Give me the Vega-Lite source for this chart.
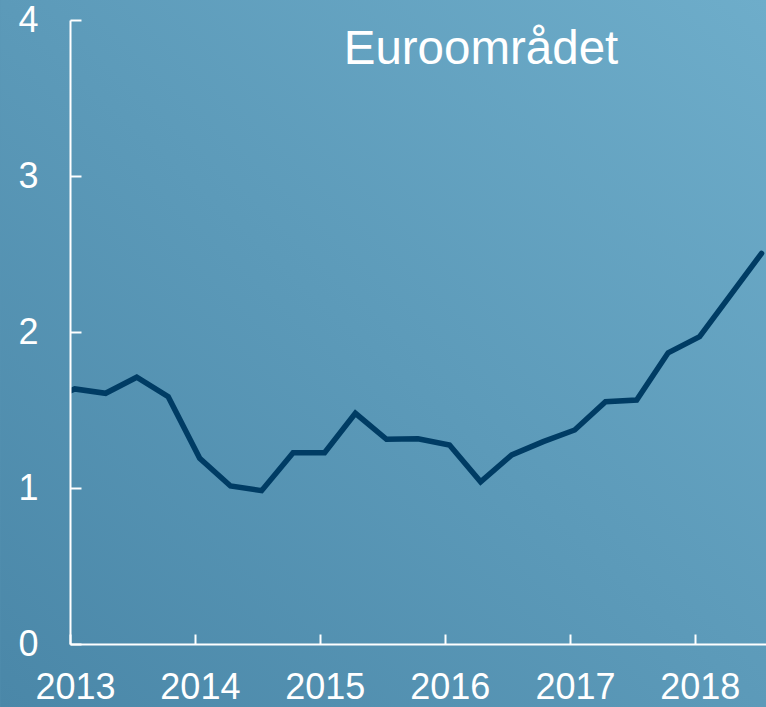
{
  "$schema": "https://vega.github.io/schema/vega-lite/v6.json",
  "width": 696,
  "height": 624,
  "autosize": {"type": "none"},
  "padding": {"left": 70, "top": 20, "right": 0, "bottom": 63},
  "background": "#5894b3",
  "config": {
    "view": {"stroke": null},
    "font": "Liberation Sans"
  },
  "title": {
    "text": "Euroområdet",
    "color": "white",
    "fontSize": 47.5,
    "font": "Liberation Sans",
    "fontWeight": "normal",
    "anchor": "middle",
    "frame": "group",
    "dx": 63,
    "offset": -112,
    "baseline": "alphabetic",
    "zindex": 2
  },
  "layer": [
    {
      "data": {"values": [{}]},
      "mark": {
        "type": "rect",
        "clip": false,
        "fill": {
          "gradient": "linear",
          "x1": 0, "y1": 1, "x2": 1, "y2": 0,
          "stops": [
            {"offset": 0, "color": "#4a87a8"},
            {"offset": 1, "color": "#6eadca"}
          ]
        }
      },
      "encoding": {
        "x": {"datum": {"year": 2012, "month": 6, "date": 11}, "type": "temporal",
              "scale": {"domain": ["2013-01-01", "2018-07-28"]},
              "axis": {"title": null, "zindex": 2, "format": "%Y", "tickCount": {"interval": "year", "step": 1}, "labelFlush": false, "labelOverlap": false, "grid": false, "tickSize": -10, "labelPadding": 36, "labelOffset": 5, "domainColor": "white", "tickColor": "white", "labelColor": "white", "labelFontSize": 36, "labelFont": "Liberation Sans", "domainWidth": 2, "tickWidth": 2}},
        "x2": {"datum": {"year": 2018, "month": 7, "date": 28}},
        "y": {"datum": -0.41, "type": "quantitative", "scale": {"domain": [0, 4]},
              "axis": {"title": null, "zindex": 2, "values": [0, 1, 2, 3, 4], "grid": false, "tickSize": -11, "labelPadding": 43, "domainColor": "white", "tickColor": "white", "labelColor": "white", "labelFontSize": 36, "labelFont": "Liberation Sans", "domainWidth": 2, "tickWidth": 2}},
        "y2": {"datum": 4.13}
      }
    },
    {
      "data": {
        "values": [
          {"date": "2012-10-15", "value": 1.545},
          {"date": "2013-01-15", "value": 1.635},
          {"date": "2013-04-15", "value": 1.607},
          {"date": "2013-07-15", "value": 1.71},
          {"date": "2013-10-15", "value": 1.585},
          {"date": "2014-01-15", "value": 1.19},
          {"date": "2014-04-15", "value": 1.013},
          {"date": "2014-07-15", "value": 0.983},
          {"date": "2014-10-15", "value": 1.226},
          {"date": "2015-01-15", "value": 1.226},
          {"date": "2015-04-15", "value": 1.479},
          {"date": "2015-07-15", "value": 1.312},
          {"date": "2015-10-15", "value": 1.316},
          {"date": "2016-01-15", "value": 1.276},
          {"date": "2016-04-15", "value": 1.04},
          {"date": "2016-07-15", "value": 1.212},
          {"date": "2016-10-15", "value": 1.297},
          {"date": "2017-01-15", "value": 1.372},
          {"date": "2017-04-15", "value": 1.553},
          {"date": "2017-07-15", "value": 1.564},
          {"date": "2017-10-15", "value": 1.867},
          {"date": "2018-01-15", "value": 1.97},
          {"date": "2018-07-15", "value": 2.504}
        ]
      },
      "mark": {"type": "line", "clip": true, "color": "#003c64", "strokeWidth": 5.5, "strokeCap": "round"},
      "encoding": {
        "x": {
          "field": "date",
          "type": "temporal",
          "scale": {"domain": ["2013-01-01", "2018-07-28"]},
          "axis": {"title": null, "zindex": 2, "format": "%Y", "tickCount": {"interval": "year", "step": 1}, "labelFlush": false, "labelOverlap": false, "grid": false, "tickSize": -10, "labelPadding": 36, "labelOffset": 5, "domainColor": "white", "tickColor": "white", "labelColor": "white", "labelFontSize": 36, "labelFont": "Liberation Sans", "domainWidth": 2, "tickWidth": 2}
        },
        "y": {
          "field": "value",
          "type": "quantitative",
          "scale": {"domain": [0, 4]},
          "axis": {"title": null, "zindex": 2, "values": [0, 1, 2, 3, 4], "grid": false, "tickSize": -11, "labelPadding": 43, "domainColor": "white", "tickColor": "white", "labelColor": "white", "labelFontSize": 36, "labelFont": "Liberation Sans", "domainWidth": 2, "tickWidth": 2}
        }
      }
    }
  ]
}
